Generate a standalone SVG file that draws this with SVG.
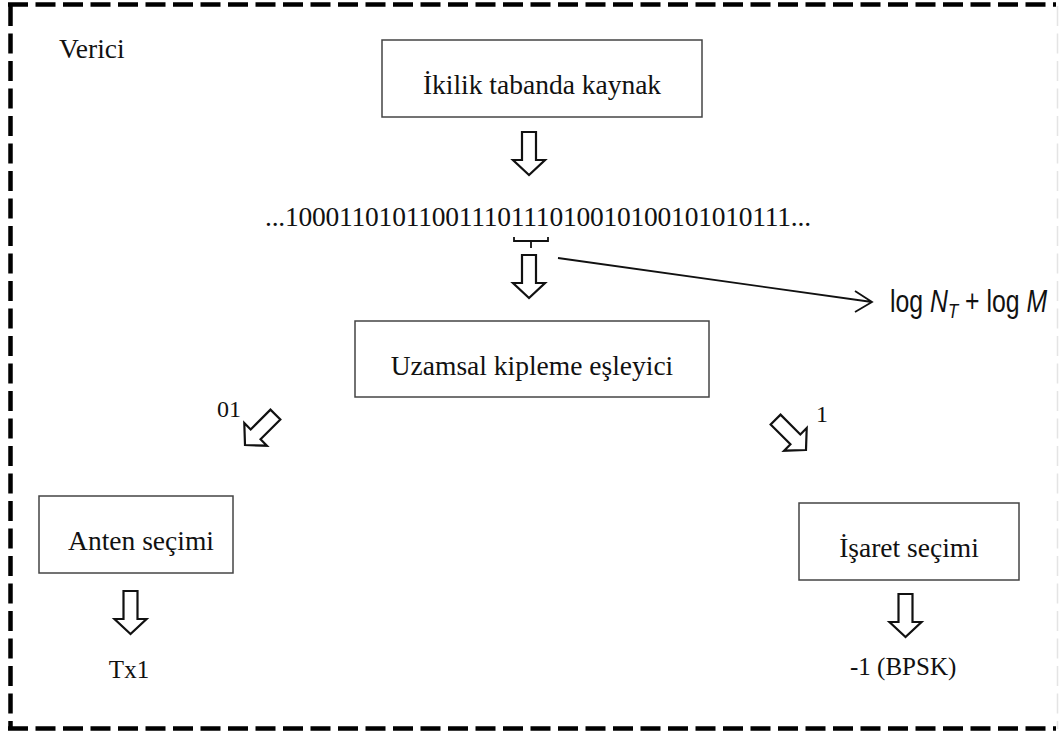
<svg xmlns="http://www.w3.org/2000/svg" width="1059" height="736" viewBox="0 0 1059 736">
  <style>
    .box { fill: #ffffff; stroke: #444444; stroke-width: 1.5; }
    .lbl { font-family: "Liberation Serif", "Times New Roman", serif; font-size: 27.5px; fill: #111111; }
    .sm { font-size: 25px; }
    .bit { font-size: 24px; }
    .hollow { fill: #ffffff; stroke: #111111; stroke-width: 2.2; stroke-linejoin: miter; }
    .frame { fill: none; stroke: #000000; stroke-width: 4.5; stroke-dasharray: 20 7.5; }
    .thin { fill: none; stroke: #111111; stroke-width: 1.8; }
  </style>
  <defs>
    <!-- hollow block arrow pointing down, tip at the origin -->
    <path id="blockArrow" d="M0,0 L-16,-15 L-7,-15 L-7,-43 L7,-43 L7,-15 L16,-15 Z"/>
  </defs>

  <rect width="1059" height="736" fill="#ffffff"/>

  <!-- dashed outline of the transmitter -->
  <g id="frame">
    <path class="frame" d="M8,4.5 H1056"/>
    <path class="frame" d="M10.5,6 V729"/>
    <path class="frame" d="M8,728.5 H1056"/>
    <path d="M1057.5,6 V729" fill="none" stroke="#e4e4e4" stroke-width="1.5" stroke-dasharray="20 7.5"/>
  </g>

  <g id="title">
    <text class="lbl" x="59" y="58">Verici</text>
  </g>

  <g id="source">
    <rect class="box" x="382" y="40" width="320" height="77"/>
    <text class="lbl" x="542" y="94" text-anchor="middle">İkilik tabanda kaynak</text>
  </g>

  <g id="bitstream">
    <text class="lbl" x="265" y="226" textLength="546">...10001101011001110111010010100101010111...</text>
    <!-- brace under the selected bits -->
    <path class="thin" d="M514,237 V241 H548 V237 M531,241 V248"/>
  </g>

  <g id="mapper">
    <rect class="box" x="355" y="321" width="354" height="76"/>
    <text class="lbl" x="532" y="375" text-anchor="middle">Uzamsal kipleme eşleyici</text>
  </g>

  <g id="bitcount">
    <text transform="translate(890,312) scale(0.8,1)" font-family="'Liberation Sans', Arial, sans-serif" font-size="31" fill="#111111">log <tspan font-style="italic">N</tspan><tspan font-style="italic" font-size="21" dy="6">T</tspan><tspan dy="-6"> + log </tspan><tspan font-style="italic">M</tspan></text>
  </g>

  <g id="antenna">
    <rect class="box" x="39" y="496" width="194" height="77"/>
    <text class="lbl" x="141" y="550" text-anchor="middle">Anten seçimi</text>
  </g>

  <g id="symbol">
    <rect class="box" x="799" y="503" width="220" height="77"/>
    <text class="lbl" x="909" y="557" text-anchor="middle">İşaret seçimi</text>
  </g>

  <g id="antenna-out">
    <text class="lbl sm" x="129" y="678" text-anchor="middle">Tx1</text>
  </g>

  <g id="symbol-out">
    <text class="lbl sm" x="850" y="675">-1 (BPSK)</text>
  </g>

  <g id="connectors">
    <use href="#blockArrow" class="hollow" transform="translate(529,175)"/>
    <use href="#blockArrow" class="hollow" transform="translate(529,298)"/>
    <use href="#blockArrow" class="hollow" transform="translate(245,445) rotate(45)"/>
    <use href="#blockArrow" class="hollow" transform="translate(806,450) rotate(-45)"/>
    <use href="#blockArrow" class="hollow" transform="translate(130.5,634)"/>
    <use href="#blockArrow" class="hollow" transform="translate(905.5,637)"/>
    <path class="thin" d="M558,258 L872,302 M855,291 L872,302 L855,312"/>
    <text class="lbl bit" x="217" y="417">01</text>
    <text class="lbl bit" x="816" y="422">1</text>
  </g>
</svg>
